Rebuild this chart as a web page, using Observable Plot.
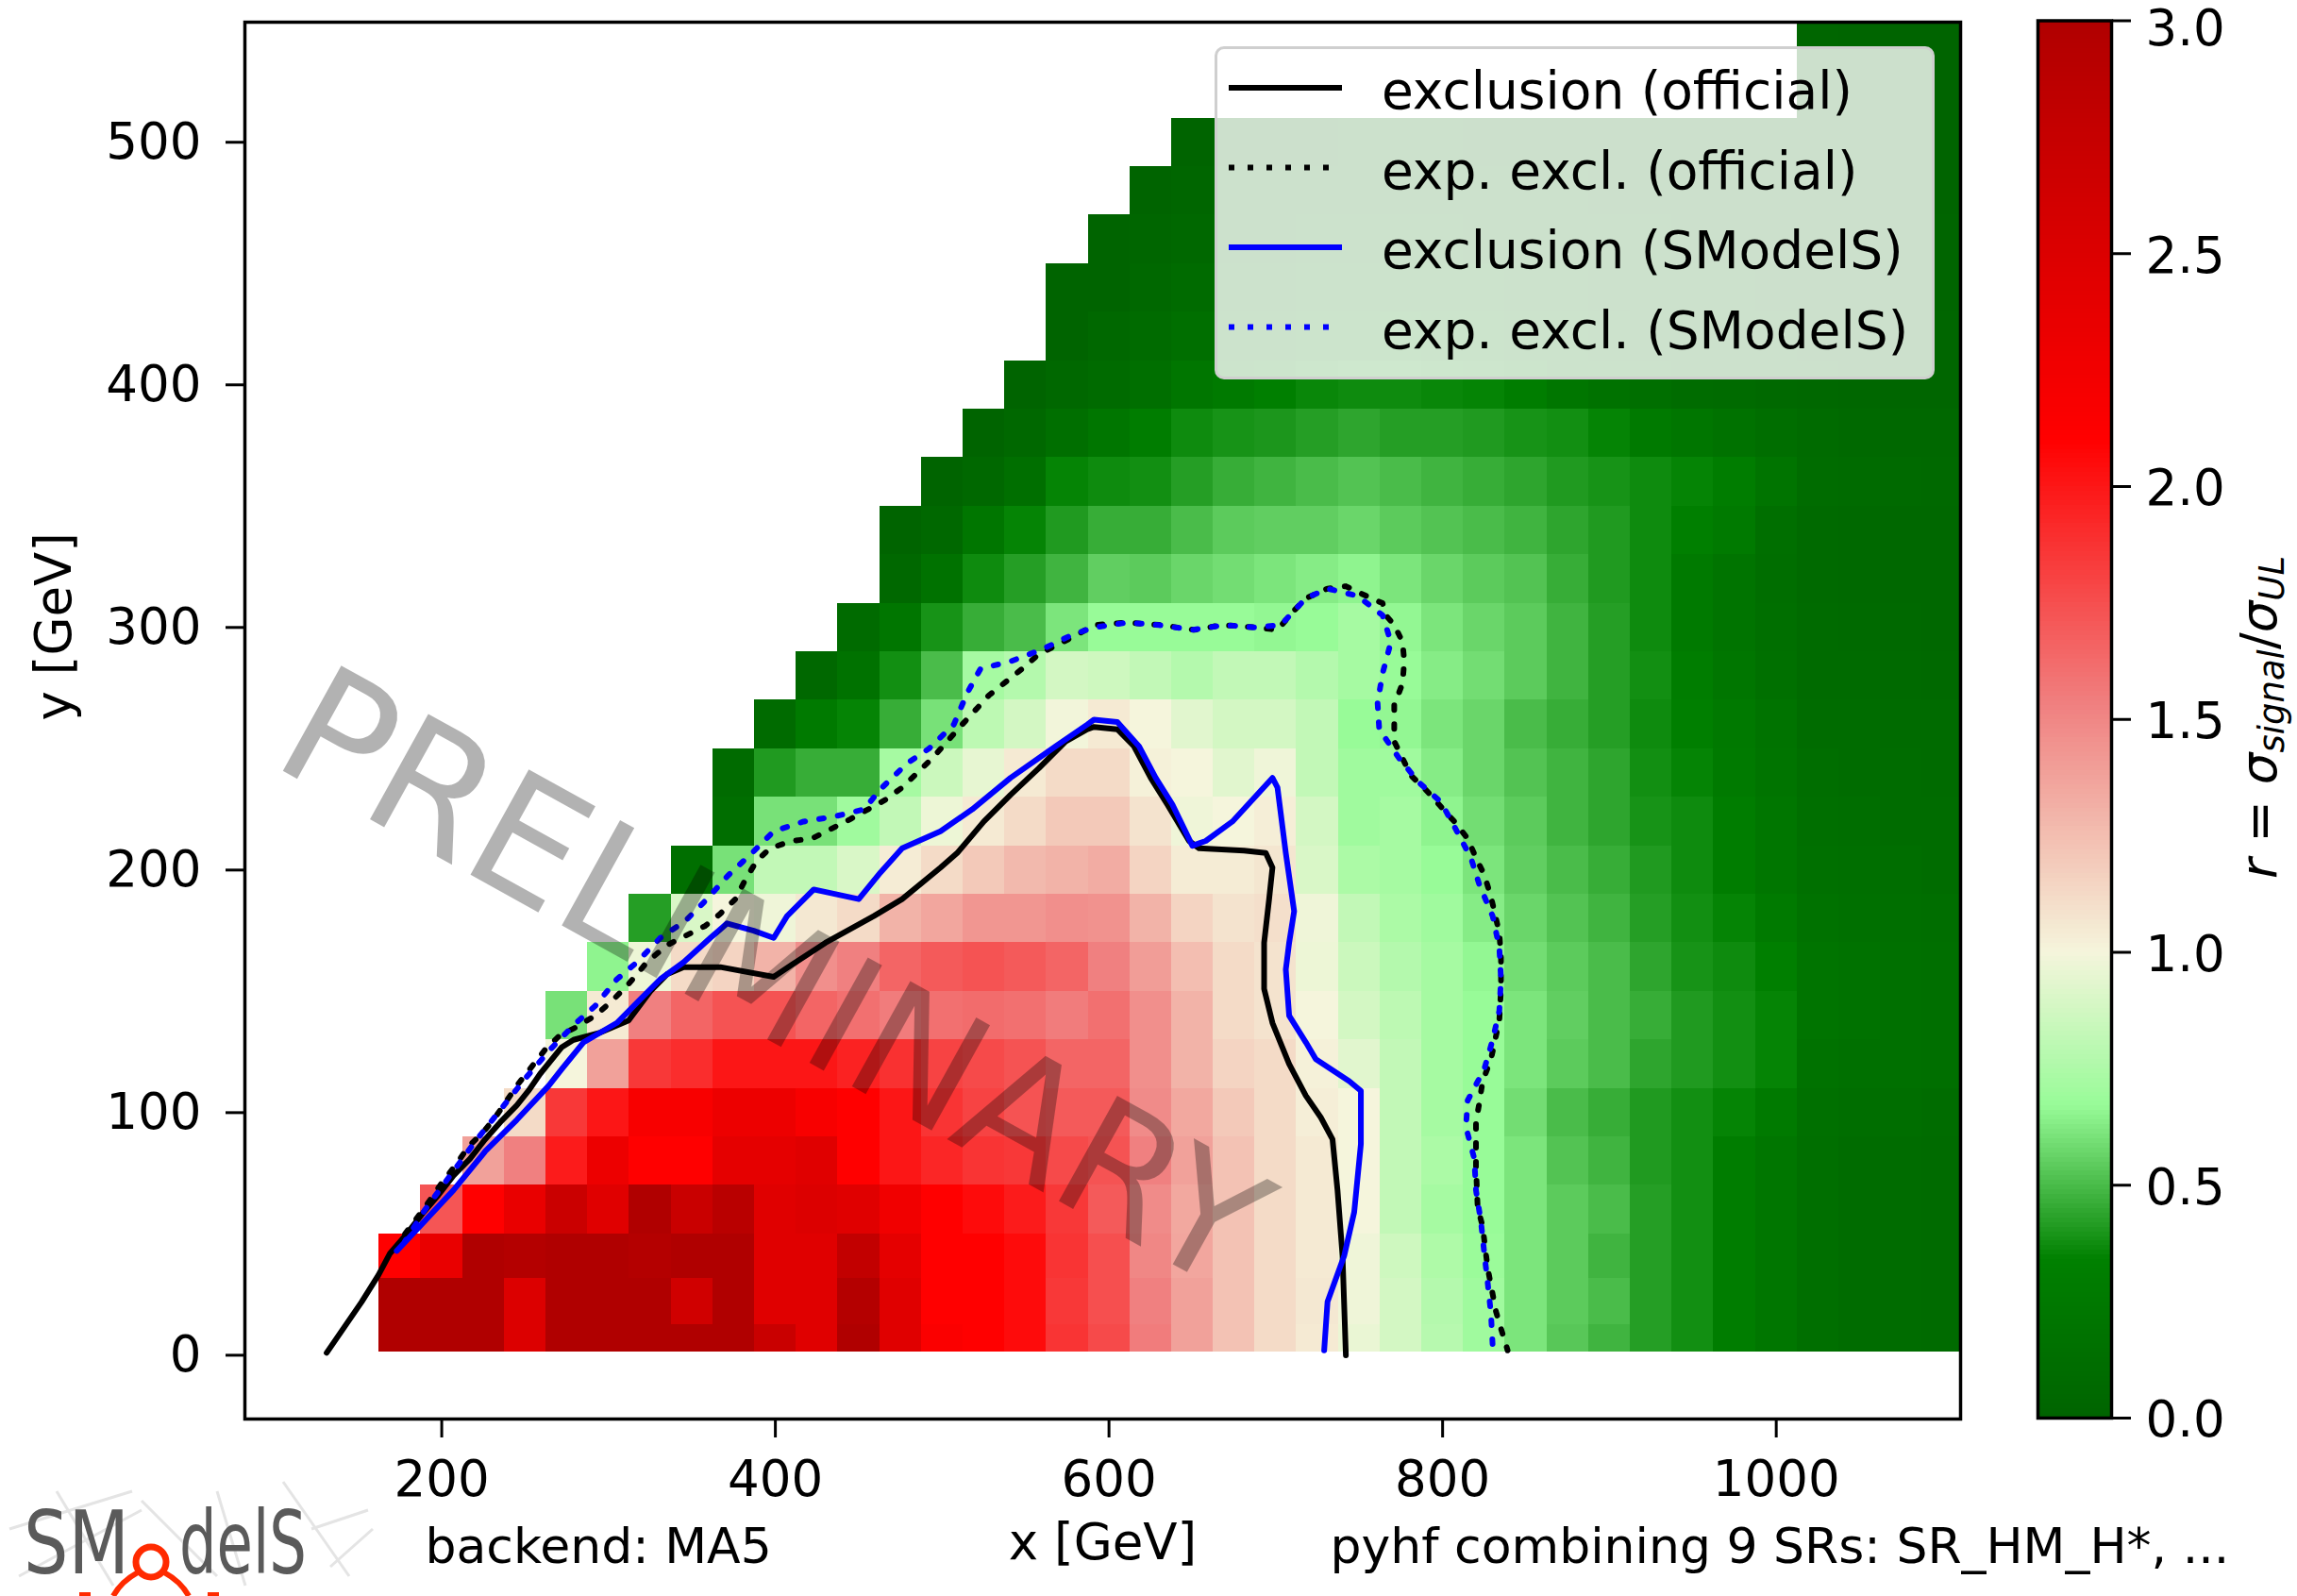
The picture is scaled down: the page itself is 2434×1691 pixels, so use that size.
<!DOCTYPE html>
<html>
<head>
<meta charset="utf-8">
<script src="https://cdn.jsdelivr.net/npm/d3@7"></script>
<script src="https://cdn.jsdelivr.net/npm/@observablehq/plot@0.6"></script>
<style>
  html, body { margin: 0; padding: 0; background: #ffffff; }
  #wrap { position: relative; width: 2434px; height: 1691px; overflow: hidden; background: #ffffff; font-family: "DejaVu Sans", sans-serif; }
  #wrap > svg, #wrap > div { position: absolute; }
  #legend { left: 1287px; top: 49px; width: 763px; height: 353px; box-sizing: border-box;
            border: 3px solid #cfcfcf; border-radius: 10px; background: rgba(255,255,255,0.8); }
  #legend svg { position: absolute; left: 0; top: 0; }
</style>
</head>
<body>
<div id="wrap"></div>
<script>
// ---------------- data ----------------
// x bin centres (GeV)
const xCenters = [175,200,225,250,275,300,325,350,375,400,425,450,475,500,525,550,575,600,625,650,675,700,725,750,775,800,825,850,875,900,925,950,975,1000,1025,1050,1075,1100];
// y bin edges (GeV), one row of cells between consecutive edges
const yBinEdges = [1.5,12.5,31.5,50,70,90,110,130,150,170,190,210,230,250,270,290,310,330,350,370,390,410,430,450,470,490,510,530,550];
// x centre of the first populated cell of every row (bottom to top)
const rowFirstX = [175,175,175,200,225,250,275,275,300,325,350,375,375,400,425,450,475,475,500,525,550,575,575,600,625,650,1025,1025];
// r = sigma_signal / sigma_UL, row by row (bottom to top), from rowFirstX up to x = 1100
const rValues = [
  [3.0,3.0,3.0,2.5,3.0,3.0,3.0,3.0,3.0,2.72,2.45, 3.0,2.45,2.15,2.1,2.05,1.87,1.77,1.55,1.38,1.23, 1.12,1.05,0.96,0.88,0.78,0.7,0.61,0.53,0.48,0.42, 0.38,0.3,0.22,0.13,0.1,0.1,0.08],
  [3.0,3.0,3.0,2.5,3.0,3.0,3.0,2.63,3.0,2.45,2.45, 2.95,2.45,2.1,2.1,2.05,1.85,1.75,1.53,1.38,1.23, 1.12,1.06,0.98,0.88,0.77,0.7,0.61,0.54,0.5,0.42, 0.38,0.3,0.22,0.13,0.1,0.1,0.08],
  [2.1,2.35,3.0,2.95,3.0,3.0,2.95,3.0,3.0,2.45,2.45, 2.8,2.4,2.1,2.1,2.05,1.87,1.75,1.5,1.36,1.23, 1.12,1.05,0.98,0.86,0.75,0.68,0.61,0.54,0.48,0.42, 0.38,0.3,0.22,0.13,0.1,0.1,0.08],
  [1.72,2.1,2.35,2.7,2.45,3.0,2.72,2.9,2.45,2.5, 2.45,2.26,2.1,2.05,1.98,1.85,1.7,1.48,1.35,1.23, 1.12,1.05,1.0,0.82,0.72,0.67,0.61,0.54,0.5,0.42, 0.38,0.3,0.22,0.13,0.1,0.1,0.08],
  [1.38,1.53,1.98,2.3,2.1,2.1,2.4,2.4,2.45, 2.1,2.0,1.93,1.87,1.85,1.77,1.73,1.53,1.38,1.23, 1.12,1.05,1.0,0.82,0.74,0.67,0.61,0.52,0.48,0.41, 0.38,0.3,0.22,0.13,0.1,0.1,0.08],
  [1.12,1.85,2.0,2.18,2.18,2.3,2.3,2.18, 2.1,2.0,1.87,1.8,1.73,1.7,1.7,1.48,1.35,1.2, 1.12,1.03,1.0,0.82,0.72,0.67,0.59,0.5,0.46,0.41, 0.38,0.35,0.27,0.15,0.12,0.12,0.1],
  [1.0,1.38,1.85,1.9,2.0,2.0,2.0, 1.95,1.88,1.8,1.77,1.73,1.65,1.65,1.46,1.3,1.15, 1.12,1.02,0.93,0.82,0.72,0.67,0.61,0.54,0.5,0.44, 0.41,0.38,0.35,0.17,0.15,0.15,0.13],
  [0.6,1.05,1.53,1.65,1.73,1.73,1.65, 1.6,1.55,1.6,1.62,1.6,1.55,1.6,1.46,1.3,1.12, 1.08,1.0,0.88,0.8,0.72,0.67,0.61,0.55,0.5,0.46, 0.41,0.38,0.35,0.2,0.17,0.15,0.13],
  [0.65,0.97,1.12,1.15,1.3,1.46, 1.53,1.65,1.7,1.73,1.7,1.65,1.53,1.4,1.25,1.12, 1.08,0.97,0.85,0.77,0.72,0.66,0.59,0.54,0.5,0.44, 0.39,0.37,0.33,0.2,0.17,0.15,0.13],
  [0.42,0.9,1.0,0.98,1.06, 1.12,1.3,1.36,1.43,1.43,1.46,1.45,1.3,1.15,1.08, 1.1,0.98,0.82,0.74,0.7,0.63,0.57,0.52,0.48,0.42, 0.38,0.35,0.27,0.17,0.15,0.13,0.12],
  [0.13,0.6,0.82,0.82, 0.9,1.04,1.12,1.2,1.27,1.3,1.33,1.15,1.04,1.04, 1.07,0.9,0.74,0.72,0.67,0.61,0.55,0.5,0.46,0.41, 0.37,0.3,0.22,0.15,0.13,0.12,0.1],
  [0.12,0.6,0.6, 0.7,0.82,0.97,1.05,1.12,1.2,1.2,1.08,0.98,1.0, 1.03,0.88,0.7,0.72,0.65,0.59,0.54,0.48,0.44,0.39, 0.37,0.3,0.22,0.13,0.12,0.1,0.1],
  [0.09,0.41,0.46, 0.46,0.72,0.85,0.95,1.05,1.12,1.12,1.02,1.0,0.93, 0.98,0.82,0.7,0.7,0.63,0.57,0.52,0.48,0.44,0.38, 0.35,0.27,0.2,0.12,0.1,0.1,0.08],
  [0.09,0.27, 0.35,0.46,0.6,0.8,0.88,0.99,1.05,1.0,0.93,0.88, 0.88,0.82,0.67,0.66,0.61,0.57,0.5,0.46,0.42,0.37, 0.33,0.25,0.18,0.1,0.1,0.08,0.08],
  [0.05, 0.17,0.38,0.5,0.72,0.77,0.88,0.86,0.82,0.77,0.82, 0.82,0.77,0.72,0.67,0.63,0.59,0.54,0.48,0.42,0.38, 0.3,0.22,0.15,0.09,0.08,0.07,0.06],
  [0.09,0.22,0.39,0.46,0.5,0.61,0.67,0.67,0.67,0.67, 0.66,0.67,0.72,0.66,0.61,0.57,0.54,0.48,0.42,0.37, 0.27,0.2,0.13,0.08,0.07,0.06,0.05],
  [0.05,0.17,0.37,0.42,0.48,0.55,0.54,0.57,0.59, 0.61,0.63,0.65,0.61,0.57,0.54,0.52,0.46,0.41,0.37, 0.27,0.2,0.12,0.07,0.06,0.05,0.05],
  [0.0,0.05,0.22,0.35,0.41,0.46,0.46,0.5,0.54, 0.55,0.55,0.57,0.54,0.52,0.5,0.48,0.44,0.41,0.37, 0.33,0.27,0.13,0.07,0.06,0.05,0.05],
  [0.0,0.05,0.13,0.35,0.37,0.38,0.42,0.46, 0.48,0.5,0.52,0.5,0.48,0.46,0.44,0.41,0.39,0.37, 0.35,0.3,0.2,0.1,0.08,0.07,0.06],
  [0.0,0.05,0.13,0.22,0.3,0.37,0.39, 0.4,0.42,0.44,0.42,0.42,0.41,0.39,0.38,0.35,0.27, 0.22,0.17,0.12,0.08,0.06,0.05,0.05],
  [0.0,0.05,0.09,0.13,0.22,0.27, 0.33,0.36,0.37,0.37,0.36,0.35,0.3,0.22,0.17,0.13, 0.1,0.08,0.06,0.05,0.04,0.03,0.03],
  [0.0,0.05,0.09,0.13,0.17, 0.22,0.25,0.27,0.3,0.27,0.25,0.22,0.17,0.13,0.1, 0.08,0.06,0.05,0.03,0.03,0.02,0.02],
  [0.0,0.0,0.05,0.09,0.12, 0.15,0.17,0.2,0.2,0.2,0.17,0.15,0.12,0.1,0.08, 0.06,0.05,0.03,0.02,0.02,0.01,0.01],
  [0.0,0.03,0.05,0.08, 0.1,0.12,0.13,0.13,0.12,0.1,0.1,0.08,0.07,0.05, 0.04,0.03,0.02,0.02,0.01,0.01,0.01],
  [0.0,0.03,0.05, 0.07,0.08,0.09,0.09,0.08,0.07,0.06,0.05,0.04,0.03, 0.03,0.02,0.01,0.01,0.01,0.0,0.0],
  [0.0,0.02, 0.03,0.04,0.05,0.05,0.05,0.04,0.03,0.03,0.02,0.02, 0.01,0.01,0.0,0.0,0.0,0.0,0.0],
  [0.03,0.02,0.01,0.0],
  [0.02,0.01,0.0,0.0]
];

// exclusion curves [x, y] in GeV
const exclOfficial = [[131,1],[152,22],[162,33],[169,42],[179,50],[188,58],[198,66],[207,74],[217,81],[226,89],[235,96],[245,103],[252,109],[259,116],[272,127],[279,130],[295,133],[312,138],[325,150],[335,157],[345,160],[367,160],[399,156],[410,161],[430,170],[459,181],[476,188],[499,201],[509,207],[525,220],[541,231],[558,242],[574,253],[587,258],[591,259],[605,258],[615,251],[625,238],[635,227],[648,212],[654,209],[681,208],[694,207],[698,201],[696,188],[693,170],[693,151],[698,137],[708,120],[718,107],[727,98],[734,89],[737,68],[740,41],[742,0]];
const expExclOfficial = [[178,50],[190,61],[200,71],[209,79],[216,86],[225,92],[233,99],[239,105],[246,112],[254,119],[262,126],[271,132],[280,135],[292,140],[302,146],[312,153],[323,162],[335,169],[358,177],[367,182],[376,188],[382,196],[389,204],[397,209],[410,212],[422,213],[445,221],[466,229],[476,234],[494,246],[512,260],[528,272],[548,283],[558,289],[581,297],[591,301],[611,302],[631,301],[651,299],[668,301],[688,300],[701,299],[711,307],[718,312],[731,316],[742,317],[751,314],[764,310],[766,305],[771,301],[776,294],[777,286],[776,277],[771,268],[771,259],[771,253],[781,239],[790,233],[807,220],[815,213],[820,205],[825,198],[829,189],[834,174],[835,164],[835,151],[834,138],[829,122],[824,113],[822,104],[820,96],[820,78],[821,61],[824,53],[827,36],[832,18],[835,11],[839,2]];
const exclSModelS = [[173,43],[188,54],[207,68],[226,84],[245,97],[264,111],[272,118],[285,129],[305,137],[318,146],[331,155],[345,162],[361,172],[371,178],[387,175],[399,172],[407,181],[423,192],[450,188],[463,199],[476,209],[499,216],[518,225],[541,238],[568,251],[587,260],[591,262],[605,261],[618,251],[628,238],[638,227],[650,210],[658,212],[674,220],[698,238],[701,234],[706,207],[711,183],[708,170],[706,159],[708,140],[718,129],[724,122],[744,113],[751,109],[751,87],[747,59],[741,41],[731,22],[729,2]];
const expExclSModelS = [[178,47],[190,60],[205,74],[220,88],[235,101],[250,114],[265,126],[279,136],[292,144],[305,155],[317,162],[331,172],[346,179],[359,188],[372,198],[386,207],[399,216],[417,220],[435,222],[453,225],[464,234],[479,244],[492,250],[507,260],[515,273],[523,283],[541,286],[560,291],[578,297],[591,300],[611,302],[630,301],[650,299],[669,301],[688,300],[703,301],[718,312],[731,316],[749,313],[764,305],[769,294],[764,281],[761,269],[762,258],[774,246],[786,236],[799,228],[807,218],[817,205],[822,194],[830,181],[834,168],[835,155],[834,142],[830,130],[825,118],[815,105],[814,94],[819,81],[820,68],[823,55],[825,42],[827,30],[829,17],[830,4]];

const xTicks = [200, 400, 600, 800, 1000];
const yTicks = [0, 100, 200, 300, 400, 500];
const cbTicks = [0, 0.5, 1.0, 1.5, 2.0, 2.5, 3.0];
const colorStops = [0, 0.34, 0.67, 1.0, 1.53, 2.1, 3.0];
const colorRange = ["#006400", "#008000", "#98fb98", "#f5f5dc", "#f08080", "#ff0000", "#b00000"];

const legendItems = [
  {label: "exclusion (official)", stroke: "black", dash: null},
  {label: "exp. excl. (official)", stroke: "black", dash: "6,14"},
  {label: "exclusion (SModelS)", stroke: "blue", dash: null},
  {label: "exp. excl. (SModelS)", stroke: "blue", dash: "6,14"}
];

// ---------------- build cells ----------------
const cells = [];
rValues.forEach((row, i) => {
  const y1 = yBinEdges[i], y2 = yBinEdges[i + 1];
  const start = xCenters.indexOf(rowFirstX[i]);
  row.forEach((r, j) => {
    const k = start + j;
    const xc = xCenters[k];
    const half = (k + 1 < xCenters.length ? xCenters[k + 1] - xc : xc - xCenters[k - 1]) / 2;
    cells.push({x1: xc - half, x2: xc + half, y1, y2, r});
  });
});

const colorOpts = {type: "linear", domain: colorStops, range: colorRange, interpolate: "rgb", clamp: true};
const font = "'DejaVu Sans', sans-serif";
const wrap = document.getElementById("wrap");

const main = Plot.plot({
  width: 2434, height: 1691,
  marginLeft: 259, marginRight: 357, marginTop: 23, marginBottom: 188,
  style: {fontFamily: font, fontSize: "53px", background: "transparent", overflow: "visible"},
  x: {domain: [82, 1110.5]},
  y: {domain: [-26.3, 549.5]},
  color: colorOpts,
  marks: [
    Plot.rect(cells, {x1: "x1", x2: "x2", y1: "y1", y2: "y2", fill: "r", clip: true, shapeRendering: "crispEdges"}),
    Plot.line(exclOfficial, {x: d => d[0], y: d => d[1], stroke: "black", strokeWidth: 6, strokeLinejoin: "round"}),
    Plot.line(expExclOfficial, {x: d => d[0], y: d => d[1], stroke: "black", strokeWidth: 6, strokeDasharray: "5,15"}),
    Plot.line(exclSModelS, {x: d => d[0], y: d => d[1], stroke: "blue", strokeWidth: 6, strokeLinejoin: "round"}),
    Plot.line(expExclSModelS, {x: d => d[0], y: d => d[1], stroke: "blue", strokeWidth: 6, strokeDasharray: "5,15", strokeDashoffset: 3}),
    Plot.text(["PRELIMINARY"], {x: 398, y: 154, rotate: 29, fontSize: 175, fill: "black", fillOpacity: 0.3}),
    Plot.frame({stroke: "black", strokeWidth: 3.5}),
    Plot.axisX({ticks: xTicks, tickFormat: d3.format("d"), tickSize: 20, tickPadding: 24, strokeWidth: 3, label: null}),
    Plot.axisY({ticks: yTicks, tickFormat: d3.format("d"), tickSize: 20, tickPadding: 26, strokeWidth: 3, label: null}),
    Plot.text(["x [GeV]"], {frameAnchor: "bottom", dy: 148, fontSize: 53}),
    Plot.text(["y [GeV]"], {frameAnchor: "left", dx: -201, rotate: -90, fontSize: 53}),
    Plot.text(["backend: MA5"], {frameAnchor: "bottom-left", dx: 191, dy: 152, textAnchor: "start", fontSize: 52}),
    Plot.text(["pyhf combining 9 SRs: SR_HM_H*, ..."], {frameAnchor: "bottom-left", dx: 1150, dy: 152, textAnchor: "start", fontSize: 52})
  ]
});
main.style.left = "0px"; main.style.top = "0px";
wrap.appendChild(main);

// ---------------- colour bar ----------------
const cbSteps = d3.range(0, 3, 0.01);
const cb = Plot.plot({
  width: 294, height: 1691,
  marginLeft: 19, marginRight: 197, marginTop: 21.5, marginBottom: 189,
  style: {fontFamily: font, fontSize: "53px", background: "transparent", overflow: "visible"},
  x: {domain: [0, 1], axis: null},
  y: {domain: [0, 3]},
  color: colorOpts,
  marks: [
    Plot.rect(cbSteps, {x1: 0, x2: 1, y1: d => d, y2: d => d + 0.01, fill: d => d + 0.005, shapeRendering: "crispEdges"}),
    Plot.frame({stroke: "black", strokeWidth: 3.5}),
    Plot.axisY({anchor: "right", ticks: cbTicks, tickFormat: () => "", tickSize: 20, strokeWidth: 3, label: null}),
    Plot.axisY({anchor: "right", ticks: cbTicks.slice(0, -1), tickFormat: d3.format(".1f"), tickSize: 0, tickPadding: 36, dy: 3, label: null}),
    Plot.axisY({anchor: "right", ticks: cbTicks.slice(-1), tickFormat: d3.format(".1f"), tickSize: 0, tickPadding: 36, dy: 9, label: null})
  ]
});
cb.style.left = "2140px"; cb.style.top = "0px";
wrap.appendChild(cb);

// colour-bar label  r = σ_signal / σ_UL
const lab = d3.select(cb).append("text")
  .attr("transform", "translate(272,760) rotate(-90)")
  .attr("text-anchor", "middle")
  .attr("font-family", font)
  .attr("font-size", 53)
  .attr("fill", "black");
lab.append("tspan").attr("font-style", "italic").text("r");
lab.append("tspan").text(" = ");
lab.append("tspan").attr("font-style", "italic").text("σ");
lab.append("tspan").attr("font-style", "italic").attr("font-size", 37).attr("dy", 8).text("signal");
lab.append("tspan").attr("dy", -8).text("/");
lab.append("tspan").attr("font-style", "italic").text("σ");
lab.append("tspan").attr("font-style", "italic").attr("font-size", 37).attr("dy", 8).text("UL");

// ---------------- legend ----------------
const leg = document.createElement("div");
leg.id = "legend";
wrap.appendChild(leg);
const lsvg = d3.select(leg).append("svg").attr("width", 757).attr("height", 347);
legendItems.forEach((it, i) => {
  const cy = 41 + i * 84.5;
  const ln = lsvg.append("line").attr("x1", 12).attr("x2", 132).attr("y1", cy).attr("y2", cy)
    .attr("stroke", it.stroke).attr("stroke-width", 6);
  if (it.dash) ln.attr("stroke-dasharray", it.dash);
  lsvg.append("text").attr("x", 174).attr("y", 63 + i * 84.5)
    .attr("font-family", font).attr("font-size", 55).attr("fill", "black").text(it.label);
});

// ---------------- SModelS logo ----------------
const logo = d3.select(wrap).append("svg").attr("width", 420).attr("height", 131)
  .style("left", "0px").style("top", "1560px");
const g = logo.append("g");
[[10,60,140,20],[20,110,150,40],[60,20,120,120],[150,30,230,110],[230,20,260,120],[300,10,370,110],[330,60,390,40],[350,100,395,60]]
  .forEach(s => g.append("line").attr("x1", s[0]).attr("y1", s[1]).attr("x2", s[2]).attr("y2", s[3])
    .attr("stroke", "#e4e4e4").attr("stroke-width", 3));
g.append("text").attr("x", 25).attr("y", 107).attr("font-family", font).attr("font-size", 92)
  .attr("fill", "#5a5a5a").attr("textLength", 112).attr("lengthAdjust", "spacingAndGlyphs").text("SM");
g.append("text").attr("x", 190).attr("y", 107).attr("font-family", font).attr("font-size", 92)
  .attr("fill", "#5a5a5a").attr("textLength", 135).attr("lengthAdjust", "spacingAndGlyphs").text("delS");
g.append("circle").attr("cx", 160).attr("cy", 95).attr("r", 16).attr("fill", "none").attr("stroke", "#ff2a00").attr("stroke-width", 7);
g.append("path").attr("d", "M146,106 Q128,116 120,131 M174,106 Q192,116 200,131").attr("fill", "none").attr("stroke", "#ff2a00").attr("stroke-width", 6);
g.append("line").attr("x1", 84).attr("y1", 129).attr("x2", 96).attr("y2", 129).attr("stroke", "#ff2a00").attr("stroke-width", 4);
g.append("line").attr("x1", 220).attr("y1", 129).attr("x2", 232).attr("y2", 129).attr("stroke", "#ff2a00").attr("stroke-width", 4);
</script>
</body>
</html>
